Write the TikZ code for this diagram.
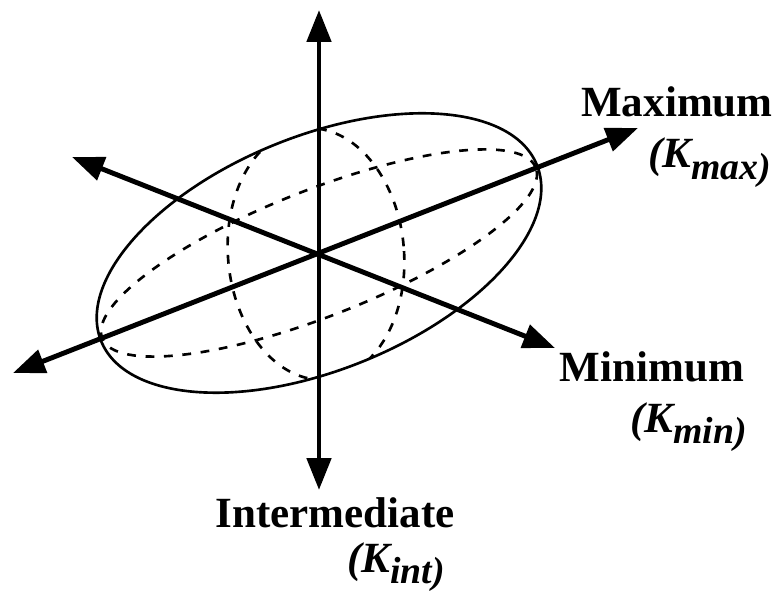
\documentclass[tikz,border=0pt]{standalone}
\usepackage{fontspec}
\setmainfont{Liberation Serif}
\usetikzlibrary{arrows.meta}
\usetikzlibrary{math}

\newcommand{\kaxis}[1]{\textbf{\textit{(K\raisebox{-0.26em}{\fontsize{21.5}{24}\selectfont #1)}}}}

\begin{document}
\begin{tikzpicture}[x=0.02cm, y=0.02cm,
  axis/.style={line width=2.8pt, {Triangle[length=0.64cm,width=0.48cm]}-{Triangle[length=0.64cm,width=0.48cm]}},
  shell/.style={line width=1.5pt},
  hidden/.style={line width=1.5pt, dash pattern=on 5pt off 5.5pt},
  lbl/.style={font=\fontsize{24.5}{28}\selectfont\bfseries, inner sep=0pt}]
\tikzmath{
\amax=235;
\bmax=117;
\tilt=22;
\aeq=233;
\beq=63;
\teq=21.5;
\rxv=88;
\ryv=126;
\tv=5;
}
\useasboundingbox (-319,-340) rectangle (464,254);

\coordinate (O) at (0,0);
\coordinate (inttop) at (0,244);
\coordinate (intbot) at (0,-236);
\coordinate (maxtip) at (319,126);
\coordinate (maxtail) at (-306,-119);
\coordinate (mintip) at (236,-94);
\coordinate (mintail) at (-247,97);

% ellipsoid and its hidden sections
\draw[shell, rotate around={\tilt:(0,1)}] (0,1) ellipse [x radius=\amax, y radius=\bmax];
\begin{scope}
\clip[rotate around={\tilt:(0,1)}] (0,1) ellipse [x radius=\amax, y radius=\bmax];
\draw[hidden, rotate around={\teq:(0,1)}] (0,1) ellipse [x radius=\aeq, y radius=\beq];
\draw[hidden, rotate around={\tv:(-3,0)}] (-3,0) ellipse [x radius=\rxv, y radius=\ryv];
\end{scope}

\draw[axis] (maxtail) -- (maxtip);
\draw[axis] (mintail) -- (mintip);
\draw[axis] (intbot) -- (inttop);

\node[lbl, anchor=base] (maxlbl) at (358,137) {Maximum};
\node[lbl, anchor=base west] (kmax) at (329,86) {\kaxis{max}};
\node[lbl, anchor=base] (minlbl) at (333,-128) {Minimum};
\node[lbl, anchor=base west] (kmin) at (311,-178) {\kaxis{min}};
\node[lbl, anchor=base] (intlbl) at (16,-273) {Intermediate};
\node[lbl, anchor=base west] (kint) at (28,-318) {\kaxis{int}};
\end{tikzpicture}
\end{document}
